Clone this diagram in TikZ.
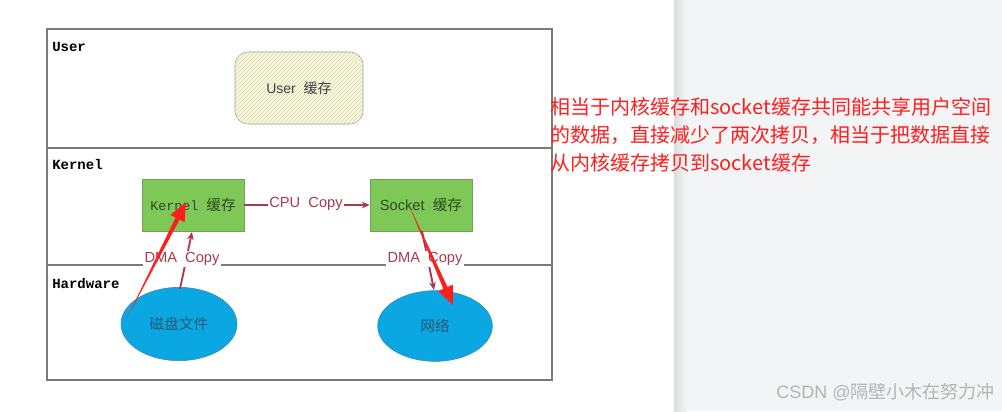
\documentclass[tikz,border=0pt]{standalone}
\usepackage{fontspec}
\setmainfont{Liberation Sans}
\setmonofont{Liberation Mono}
\newfontfamily\cjk{Noto Sans CJK SC}
\usepackage{tikz}
\usetikzlibrary{shapes.geometric}
\usetikzlibrary{patterns}
\usetikzlibrary{arrows.meta}
\usetikzlibrary{calc}
\definecolor{framegray}{HTML}{7A7A7A}
\definecolor{hatchfill}{HTML}{F8F8E2}
\definecolor{hatchline}{HTML}{D9D9A6}
\definecolor{bufgreen}{HTML}{7DC857}
\definecolor{bufedge}{HTML}{7A9A66}
\definecolor{buftext}{HTML}{2E4A22}
\definecolor{copyred}{HTML}{A83A4A}
\definecolor{devblue}{HTML}{0BA7E2}
\definecolor{devedge}{HTML}{3A86A8}
\definecolor{devtext}{HTML}{2B5877}
\definecolor{annored}{HTML}{FF1E1E}
\definecolor{panelgray}{HTML}{F3F4F6}
\definecolor{panelshade}{HTML}{DCDCDC}
\definecolor{marktext}{HTML}{B4B4B4}
\tikzstyle{layerlabel} = [anchor=west, inner sep=0, font=\fontsize{10.5pt}{12pt}\ttfamily\bfseries]
\tikzstyle{userbuf} = [rectangle, rounded corners=10pt, draw=framegray!80, fill=hatchfill, minimum width=96pt, minimum height=54pt, postaction={pattern=north east lines, pattern color=hatchline}, font=\fontsize{10.5pt}{12pt}\selectfont, text=black!75]
\tikzstyle{kernbuf} = [rectangle, draw=bufedge, fill=bufgreen, minimum width=76.5pt, minimum height=39pt, font=\fontsize{11pt}{12pt}\selectfont, text=buftext]
\tikzstyle{devnode} = [ellipse, draw=devedge, fill=devblue, inner sep=0, font=\fontsize{11pt}{12pt}\cjk, text=devtext]
\tikzstyle{copylabel} = [fill=white, inner sep=1pt, font=\fontsize{11pt}{12pt}\selectfont, text=copyred]
\tikzstyle{copyarrow} = [draw=copyred, line width=1.4pt, -{Stealth[length=6pt, width=5pt]}]

\begin{document}
\begin{tikzpicture}[x=0.75pt, y=-0.75pt]
\useasboundingbox (0,0) rectangle (1002,411);
% page background, grey side panel on the right
\fill[white] (0,0) rectangle (674,411);
\shade[left color=panelshade, right color=panelgray] (674,0) rectangle (686,411);
\fill[panelgray] (686,0) rectangle (1002,411);
% Layers: User / Kernel / Hardware
\draw[framegray, line width=1.2pt] (47,29) rectangle (552,380);
\draw[framegray, line width=0.9pt] (47,148) -- (552,148);
\draw[framegray, line width=0.9pt] (47,265) -- (552,265);
\node[layerlabel] (luser) at (52,47) {User};
\node[layerlabel] (lkern) at (52,164) {Kernel};
\node[layerlabel] (lhard) at (52,283) {Hardware};
% Buffers
\node[userbuf] (ubuf) at (299,88) {User\ \ {\cjk 缓存}};
\node[kernbuf] (kbuf) at (193,205) {{\fontsize{10pt}{12pt}\ttfamily Kernel}\ \ {\cjk 缓存}};
\node[kernbuf] (sbuf) at (421,205) {Socket\ \ {\cjk 缓存}};
% Devices
\node[devnode, minimum width=87pt, minimum height=55pt] (disk) at (179,324) {磁盘文件};
\node[devnode, minimum width=86pt, minimum height=53pt] (net) at (435,326) {网络};
% Copies
\coordinate (dtop) at (180,289);
\coordinate (kbot) at (192,232);
\coordinate (sbot) at (422,231);
\coordinate (ntop) at (434,290);
\draw[copyarrow] (dtop) -- (kbot);
\draw[copyarrow] (sbot) -- (ntop);
\draw[copyarrow] (kbuf.east) -- (sbuf.west);
\node[copylabel] (cpu) at (306,204) {CPU\ \ Copy};
\node[copylabel] (dma1) at (182,259) {DMA\ \ Copy};
\node[copylabel] (dma2) at (425,259) {DMA\ \ Copy};
% Red hand-drawn arrows
\coordinate (t1) at (127,318);
\coordinate (h1) at (186,202);
\coordinate (b1) at ($(h1)!14pt!(t1)$);
\fill[annored] (t1) -- ($(b1)!1.7pt!90:(h1)$) -- ($(b1)!6pt!90:(h1)$) -- (h1)
  -- ($(b1)!6pt!-90:(h1)$) -- ($(b1)!1.7pt!-90:(h1)$) -- cycle;
\coordinate (t2) at (408,203);
\coordinate (h2) at (453,305);
\coordinate (b2) at ($(h2)!14pt!(t2)$);
\fill[annored] (t2) -- ($(b2)!1.7pt!90:(h2)$) -- ($(b2)!6pt!90:(h2)$) -- (h2)
  -- ($(b2)!6pt!-90:(h2)$) -- ($(b2)!1.7pt!-90:(h2)$) -- cycle;
% Note
\node[anchor=west, align=left, inner sep=0, text=annored, font=\fontsize{15pt}{21pt}\cjk] (note) at (550,135)
  {相当于内核缓存和socket缓存共同能共享用户空间\\的数据，直接减少了两次拷贝，相当于把数据直接\\从内核缓存拷贝到socket缓存};
% Watermark
\node[anchor=east, inner sep=0, text=marktext, font=\fontsize{13.5pt}{15pt}\selectfont] (mark) at (995,392) {CSDN @{\cjk 隔壁小木在努力冲}};
\end{tikzpicture}
\end{document}
